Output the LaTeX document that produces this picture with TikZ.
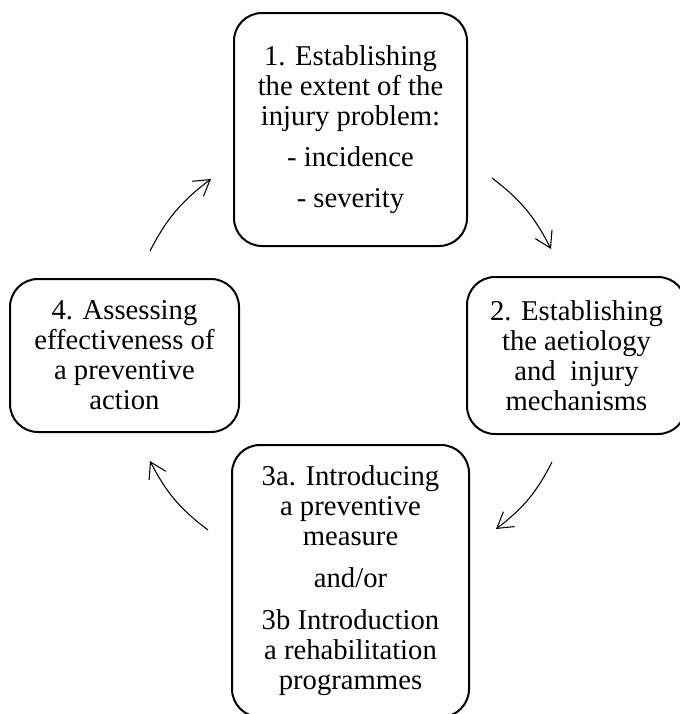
\documentclass[tikz,border=0pt]{standalone}
\usepackage{fontspec}
\setmainfont{Liberation Serif}
\usepackage{tikz}
\usetikzlibrary{
  arrows.meta,  % Tip "Straight Barb"
  bending,      % Tips that follow curved lines
}
\def\myradius{21pt}
\def\mybend{13}
\tikzset{
  >={Straight Barb[length=11.5pt,width=14pt]},
  my box/.style={
    draw,
    line width=1.5pt,
    rounded corners=\myradius,
    inner sep=0mm,
    align=center,
    font=\fontsize{21.5}{22.5}\selectfont,
    rectangle
  },
  my arrow/.style={
    ->,
    line width=0.8pt,
    bend left=\mybend
  }
}
\begin{document}
\begin{tikzpicture}[x=0.75pt,y=-0.75pt]
\useasboundingbox (0,0) rectangle (680,714);
\node[my box,minimum width=174.75pt,minimum height=174.75pt] (extent) at (350.5,129.5)
  {1. Establishing\\the extent of the\\injury problem:\\[8pt]- incidence\\[8pt]- severity};
\node[my box,minimum width=164.25pt,minimum height=117.75pt] (aetiol) at (576.5,355.5)
  {2. Establishing\\the aetiology\\and\ \ injury\\mechanisms};
\node[my box,minimum width=177.75pt,minimum height=204pt] (measure) at (350.5,581)
  {3a. Introducing\\a preventive\\measure\\[9pt]and/or\\[9pt]3b Introduction\\a rehabilitation\\programmes};
\node[my box,minimum width=171.75pt,minimum height=114.75pt] (assess) at (124.5,355.5)
  {4. Assessing\\effectiveness of\\a preventive\\action};
% free ends of the cycle arrows
\coordinate (t1) at (492,178); \coordinate (h1) at (551,249);
\coordinate (t2) at (552,462); \coordinate (h2) at (496,529);
\coordinate (t3) at (208,530); \coordinate (h3) at (150,461);
\coordinate (t4) at (150,251); \coordinate (h4) at (211,179);
\draw[my arrow] (t1) to (h1);
\draw[my arrow] (t2) to (h2);
\draw[my arrow] (t3) to (h3);
\draw[my arrow] (t4) to (h4);
\end{tikzpicture}
\end{document}
